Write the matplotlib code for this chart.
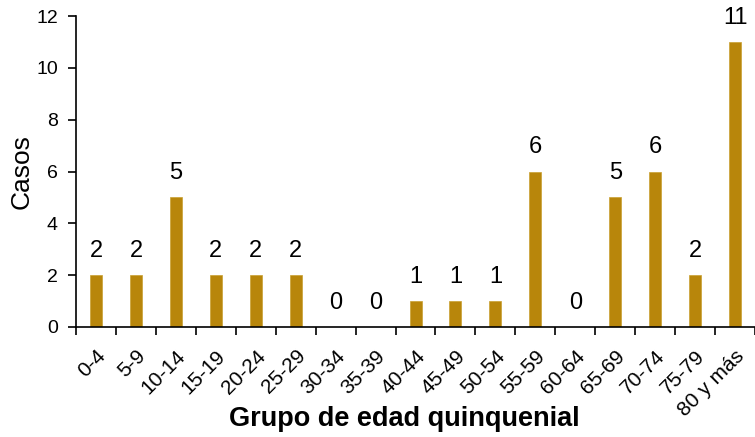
import numpy as np
import matplotlib.pyplot as plt

plt.rcParams['font.family'] = ['Liberation Sans', 'DejaVu Sans']

# data
grupos = ['0-4', '5-9', '10-14', '15-19', '20-24', '25-29', '30-34', '35-39',
          '40-44', '45-49', '50-54', '55-59', '60-64', '65-69', '70-74',
          '75-79', '80 y más']
casos = [2, 2, 5, 2, 2, 2, 0, 0, 1, 1, 1, 6, 0, 5, 6, 2, 11]

fig = plt.figure(figsize=(7.55, 4.37), dpi=100)
ax = fig.add_axes([0.1007, 0.252, 0.8993, 0.711])

x = np.arange(len(grupos))
ax.bar(x, casos, width=0.3, color='#B8860B', edgecolor='#C9A032', linewidth=0.5)
for xi, v in zip(x, casos):
    ax.annotate(str(v), (xi, v), xytext=(0, 13), textcoords='offset points',
                ha='center', va='baseline', fontsize=17)

ax.set_xlim(-0.5, len(grupos) - 0.5)
ax.set_ylim(0, 12)
ax.set_yticks(range(0, 13, 2))
ax.set_xticks(x)
ax.set_xticklabels(grupos, rotation=45, ha='right', rotation_mode='anchor', fontsize=15)
ax.set_xticks(np.arange(-0.5, len(grupos)), minor=True)
ax.tick_params(axis='x', which='major', length=0, pad=14)
ax.tick_params(axis='x', which='minor', length=6, width=1.2, direction='out')
ax.tick_params(axis='y', length=6, width=1.2, labelsize=14, pad=7)
for s in ['top', 'right']:
    ax.spines[s].set_visible(False)
for s in ['left', 'bottom']:
    ax.spines[s].set_linewidth(1.2)

ax.set_ylabel('Casos', fontsize=19, labelpad=2)
ax.set_xlabel('Grupo de edad quinquenial', fontsize=19.5, fontweight='bold',
              va='center')
ax.xaxis.set_label_coords(0.483, -0.295)

plt.savefig('out.png', dpi=100)
